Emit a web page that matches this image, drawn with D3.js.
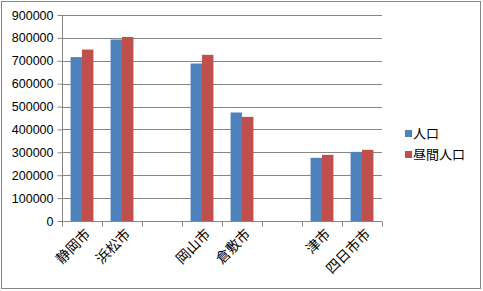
<!DOCTYPE html>
<html>
<head>
<meta charset="utf-8">
<script src="https://cdn.jsdelivr.net/npm/d3@7"></script>
<style>
  body { margin: 0; background: #fff; }
  svg { display: block; font-family: "Liberation Sans", "Noto Sans CJK JP", sans-serif; }
</style>
</head>
<body>
<svg id="chart" width="483" height="291"></svg>
<script>
// data (blank slots are empty categories)
const categories = ['静岡市', '浜松市', '', '岡山市', '倉敷市', '', '津市', '四日市市']
const seriesNames = ['人口', '昼間人口']
const population = [716000, 793000, null, 688000, 474000, null, 276000, 302000]
const daytimePopulation = [749000, 804000, null, 726000, 455000, null, 289000, 311000]
const yTicks = [0, 100000, 200000, 300000, 400000, 500000, 600000, 700000, 800000, 900000]
const colors = ['#4f81bd', '#c0504d']

const series = [population, daytimePopulation]

const width = 483
const height = 291
const margin = { top: 15, right: 101, bottom: 70, left: 62 }
const svg = d3.select('#chart')

// outer frame
svg.append('rect')
    .attr('x', 1.5).attr('y', 1.5)
    .attr('width', width - 4).attr('height', height - 4)
    .attr('fill', '#fff')
    .attr('stroke', '#878787')

// Scales
const x0 = d3.scaleBand()
    .domain(d3.range(categories.length))
    .range([margin.left, width - margin.right])

const x1 = d3.scaleBand()
    .domain(d3.range(series.length))
    .range([0, x0.bandwidth()])
    .paddingInner(0)
    .paddingOuter(0.75)

const y = d3.scaleLinear()
    .domain([0, 900000])
    .range([height - margin.bottom, margin.top])

// gridlines
svg.append('g')
    .selectAll('line')
    .data(yTicks.slice(1))
    .join('line')
    .attr('x1', margin.left)
    .attr('x2', width - margin.right)
    .attr('y1', (d) => Math.round(y(d)) + 0.5)
    .attr('y2', (d) => Math.round(y(d)) + 0.5)
    .attr('stroke', '#868686')

// Bars
const groups = svg.append('g')
    .selectAll('g')
    .data(series)
    .join('g')
    .attr('fill', (d, i) => colors[i])

groups.each(function(values, si) {
    d3.select(this)
        .selectAll('rect')
        .data(values.map((v, ci) => ({ v, ci })).filter((d) => d.v != null))
        .join('rect')
        .attr('x', (d) => x0(d.ci) + x1(si))
        .attr('width', x1.bandwidth())
        .attr('y', (d) => y(d.v))
        .attr('height', (d) => y(0) - y(d.v))
})

// Axis
const yAxis = svg.append('g')
    .attr('transform', `translate(${margin.left + 0.5},0)`)
    .call(
        d3.axisLeft(y)
            .tickValues(yTicks)
            .tickFormat(d3.format('d'))
            .tickSize(5)
            .tickSizeOuter(0)
    )
yAxis.selectAll('path, line').attr('stroke', '#868686')
yAxis.selectAll('text')
    .attr('font-size', 12.5)
    .attr('fill', '#000')
    .attr('x', -9)
    .attr('font-family', 'Liberation Sans, sans-serif')

const xAxis = svg.append('g')
    .attr('transform', `translate(0,${Math.round(y(0)) + 0.5})`)
yAxis.select('.domain').remove()
svg.append('line')
    .attr('x1', margin.left + 0.5).attr('x2', margin.left + 0.5)
    .attr('y1', margin.top).attr('y2', Math.round(y(0)))
    .attr('stroke', '#868686')

xAxis.append('line')
    .attr('x1', margin.left).attr('x2', width - margin.right)
    .attr('stroke', '#868686')
xAxis.selectAll('.tick')
    .data(d3.range(categories.length + 1))
    .join('line')
    .attr('class', 'tick')
    .attr('x1', (d) => Math.round(margin.left + d * x0.step()) + 0.5)
    .attr('x2', (d) => Math.round(margin.left + d * x0.step()) + 0.5)
    .attr('y1', 0).attr('y2', 5)
    .attr('stroke', '#868686')

xAxis.selectAll('text')
    .data(categories)
    .join('text')
    .attr('transform', (d, i) => `translate(${x0(i) + x0.bandwidth() / 2 + 6},${10}) rotate(-45)`)
    .attr('text-anchor', 'end')
    .attr('dy', '0.35em')
    .attr('font-size', 14)
    .attr('font-family', 'Noto Sans CJK JP, sans-serif')
    .text((d) => d)

// Legend
const legend = svg.append('g')
    .selectAll('g')
    .data(seriesNames)
    .join('g')
    .attr('transform', (d, i) => `translate(405,${133 + i * 21})`)

legend.append('rect')
    .attr('x', 0).attr('y', -3)
    .attr('width', 7).attr('height', 7)
    .attr('fill', (d, i) => colors[i])

legend.append('text')
    .attr('x', 8)
    .attr('dy', '0.35em')
    .attr('font-size', 13)
    .attr('font-family', 'Noto Sans CJK JP, sans-serif')
    .text((d) => d)
</script>
</body>
</html>
